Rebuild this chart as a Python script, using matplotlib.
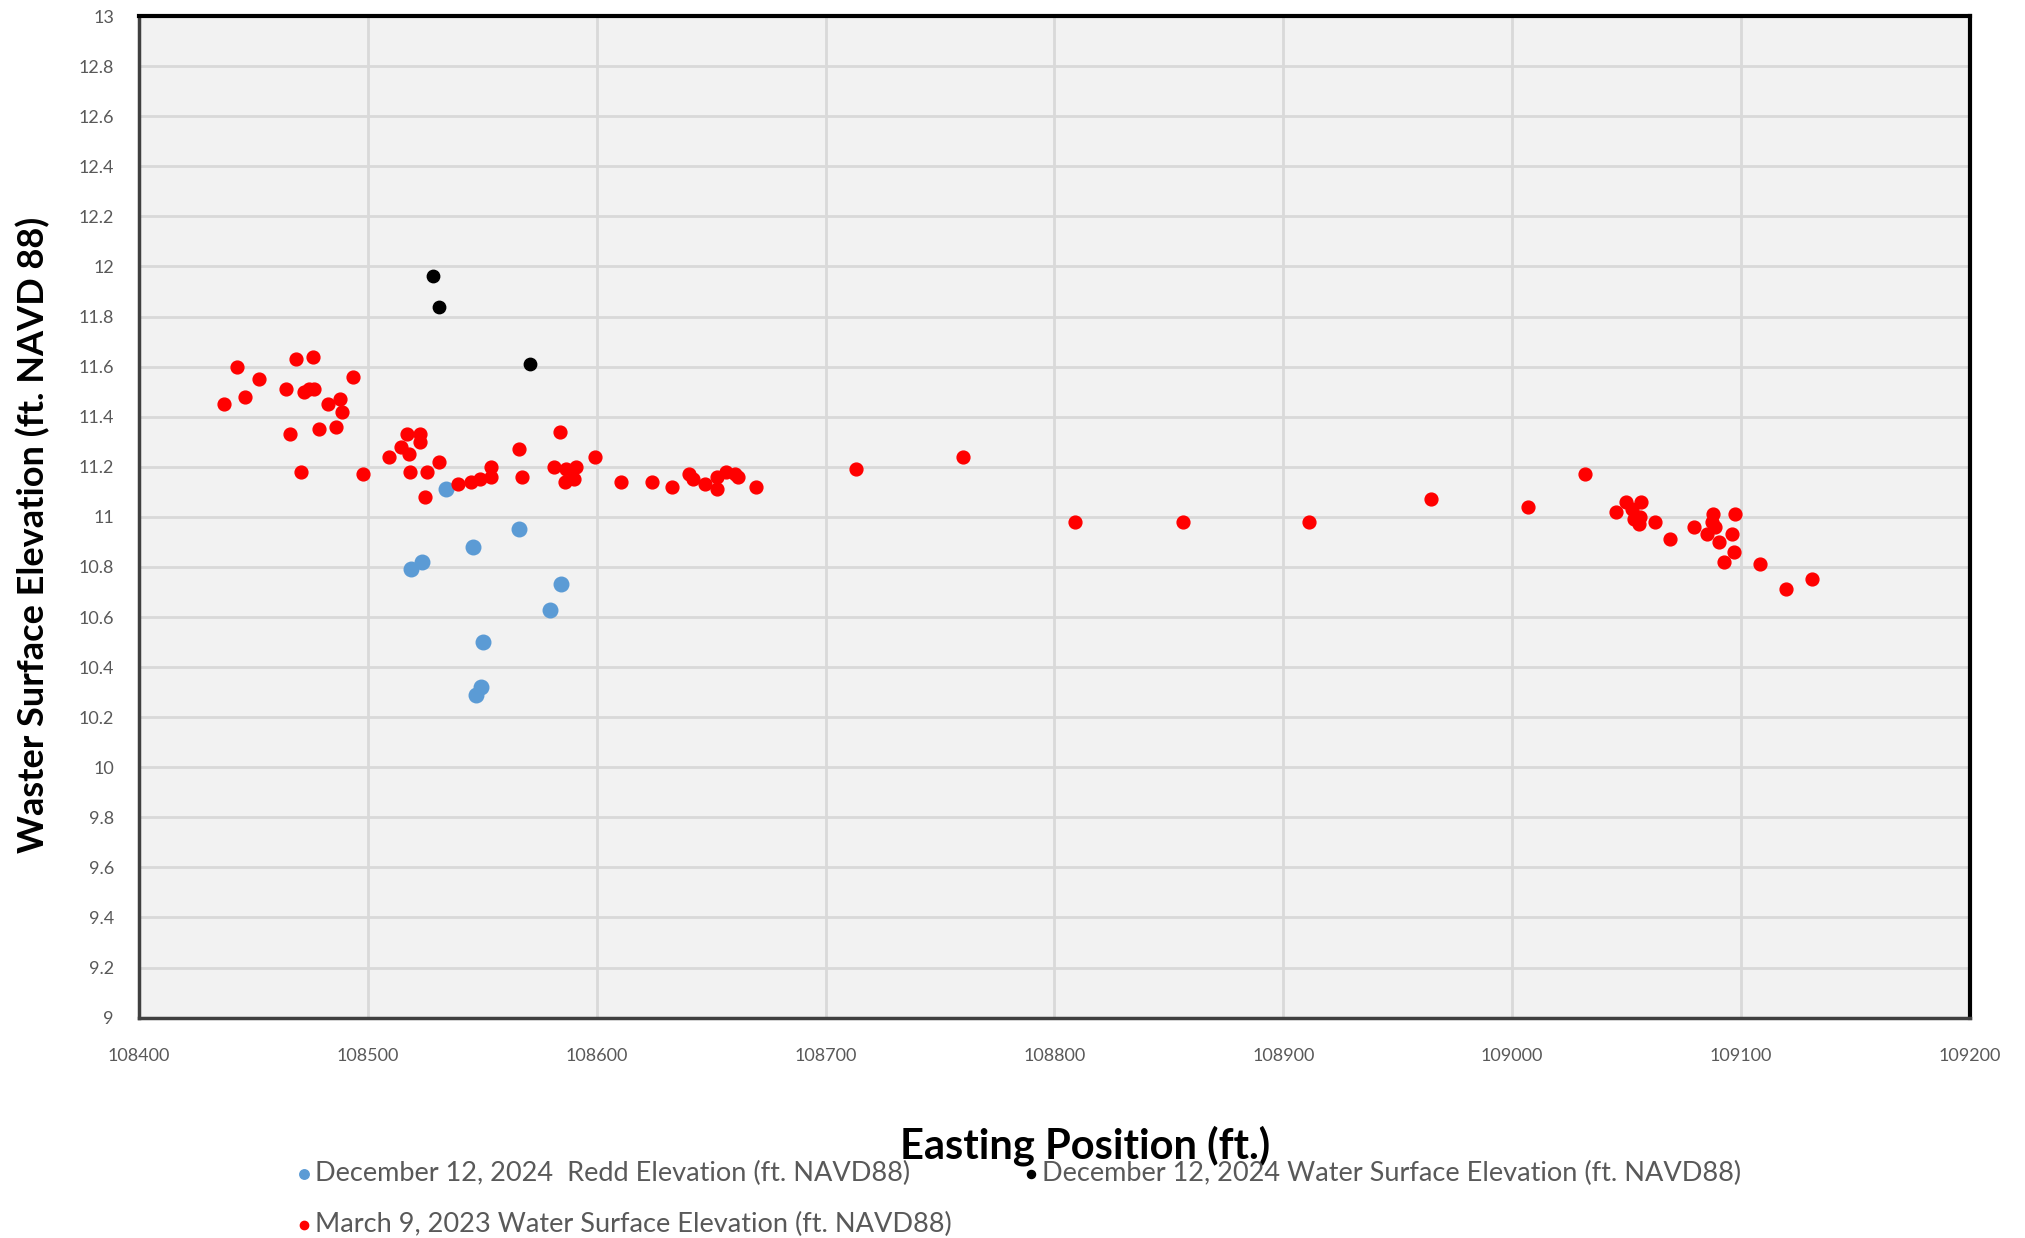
import matplotlib
matplotlib.use("Agg")
import matplotlib.pyplot as plt

# font close to the Calibri look of the original
plt.rcParams['font.family'] = ['Lato', 'DejaVu Sans']

# December 12, 2024 redd elevations
redd_x = [108518.7, 108523.8, 108534.3, 108545.8, 108547.4, 108549.4,
          108550.4, 108566.1, 108579.8, 108584.5]
redd_y = [10.79, 10.82, 11.11, 10.88, 10.29, 10.32, 10.50, 10.95, 10.63, 10.73]

# December 12, 2024 water surface
ws24_x = [108528.6, 108531.0, 108571.0]
ws24_y = [11.96, 11.84, 11.61]

# March 9, 2023 water surface
ws23_x = [108437.0, 108442.7, 108446.3, 108452.6, 108464.1, 108466.1, 108468.7,
          108470.8, 108472.2, 108474.2, 108476.1, 108476.5, 108478.6, 108482.4,
          108486.0, 108487.7, 108488.7, 108493.4, 108498.0, 108509.1, 108514.3,
          108517.0, 108517.9, 108518.4, 108522.6, 108522.6, 108524.8, 108525.8,
          108531.0, 108539.5, 108545.0, 108549.0, 108553.8, 108554.0, 108566.1,
          108567.2, 108581.3, 108583.9, 108586.0, 108586.5, 108590.0, 108590.9,
          108599.2, 108610.6, 108624.3, 108633.1, 108640.4, 108642.2, 108647.3,
          108652.5, 108652.6, 108656.7, 108660.4, 108661.8, 108669.4, 108713.1,
          108760.0, 108808.8, 108856.2, 108911.3, 108964.4, 109006.7, 109031.7,
          109045.3, 109049.9, 109052.4, 109053.3, 109055.5, 109055.8, 109056.3,
          109062.5, 109068.9, 109079.4, 109085.0, 109087.2, 109087.8, 109088.6,
          109090.3, 109092.6, 109096.1, 109096.8, 109097.3, 109108.2, 109119.6,
          109131.2]
ws23_y = [11.45, 11.60, 11.48, 11.55, 11.51, 11.33, 11.63,
          11.18, 11.50, 11.51, 11.64, 11.51, 11.35, 11.45,
          11.36, 11.47, 11.42, 11.56, 11.17, 11.24, 11.28,
          11.33, 11.25, 11.18, 11.33, 11.30, 11.08, 11.18,
          11.22, 11.13, 11.14, 11.15, 11.16, 11.20, 11.27,
          11.16, 11.20, 11.34, 11.14, 11.19, 11.15, 11.20,
          11.24, 11.14, 11.14, 11.12, 11.17, 11.15, 11.13,
          11.16, 11.11, 11.18, 11.17, 11.16, 11.12, 11.19,
          11.24, 10.98, 10.98, 10.98, 11.07, 11.04, 11.17,
          11.02, 11.06, 11.03, 10.99, 10.97, 11.00, 11.06,
          10.98, 10.91, 10.96, 10.93, 10.98, 11.01, 10.96,
          10.90, 10.82, 10.93, 10.86, 11.01, 10.81, 10.71,
          10.75]

x_ticks = [108400, 108500, 108600, 108700, 108800, 108900, 109000, 109100, 109200]
y_ticks = [9, 9.2, 9.4, 9.6, 9.8, 10, 10.2, 10.4, 10.6, 10.8, 11, 11.2, 11.4,
           11.6, 11.8, 12, 12.2, 12.4, 12.6, 12.8, 13]

fig = plt.figure(figsize=(20.25, 12.38), dpi=100)
ax = fig.add_axes([0.0686, 0.178, 0.9042, 0.809])
ax.set_facecolor('#F2F2F2')

h_redd = ax.scatter(redd_x, redd_y, s=110, color='#5B9BD5', zorder=3,
                    label='December 12, 2024  Redd Elevation (ft. NAVD88)')
h_ws24 = ax.scatter(ws24_x, ws24_y, s=80, color='black', zorder=3,
                    label='December 12, 2024 Water Surface Elevation (ft. NAVD88)')
h_ws23 = ax.scatter(ws23_x, ws23_y, s=85, color='#FF0000', zorder=3,
                    label='March 9, 2023 Water Surface Elevation (ft. NAVD88)')

ax.set_xlim(108400, 109200)
ax.set_ylim(9, 13)
ax.set_xticks(x_ticks)
ax.set_yticks(y_ticks)
ax.set_yticklabels([f'{v:g}' for v in y_ticks])
ax.grid(True, color='#D9D9D9', linewidth=2)
ax.set_axisbelow(True)
ax.tick_params(length=0, labelsize=13, labelcolor='#595959')
ax.tick_params(axis='x', pad=22)
ax.tick_params(axis='y', pad=18)

for side in ['top', 'right']:
    ax.spines[side].set_linewidth(3)
    ax.spines[side].set_color('black')
for side in ['left', 'bottom']:
    ax.spines[side].set_linewidth(2.5)
    ax.spines[side].set_color('#404040')

ax.set_xlabel('Easting Position (ft.)', fontsize=30, fontweight='bold', va='center')
ax.xaxis.set_label_coords(0.517, -0.128)
ax.set_ylabel('Waster Surface Elevation (ft. NAVD 88)', fontsize=26,
              fontweight='bold', va='center')
ax.yaxis.set_label_coords(-0.058, 0.482)

leg = fig.legend(handles=[h_redd, h_ws23, h_ws24], ncol=2, frameon=False,
                 loc='upper left', fontsize=19.5,
                 markerscale=0.65, handletextpad=0.1, handlelength=0.6,
                 columnspacing=2.65, labelspacing=0.95)
leg.set_bbox_to_anchor((0.134, 0.082), transform=fig.transFigure)
for t in leg.get_texts():
    t.set_color('#595959')

fig.savefig('out.png', dpi=100)
